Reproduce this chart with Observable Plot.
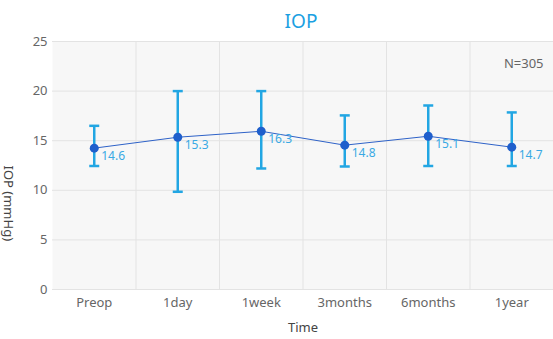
<!DOCTYPE html>
<html>
<head>
<meta charset="utf-8">
<script src="https://cdn.jsdelivr.net/npm/d3@7"></script>
<script src="https://cdn.jsdelivr.net/npm/@observablehq/plot@0.6"></script>
<style>
  html, body { margin: 0; padding: 0; background: #fff; }
  #chart svg { display: block; }
</style>
</head>
<body>
<div id="chart"></div>
<script>
const categories = ["Preop", "1day", "1week", "3months", "6months", "1year"];
const means = [14.25, 15.35, 15.95, 14.55, 15.45, 14.35];
const upper = [16.5, 20.0, 20.0, 17.55, 18.55, 17.85];
const lower = [12.45, 9.85, 12.2, 12.4, 12.45, 12.45];
const labels = ["14.6", "15.3", "16.3", "14.8", "15.1", "14.7"];
const yTicks = [0, 5, 10, 15, 20, 25];
const title = "IOP";
const yLabel = "IOP (mmHg)";
const xLabel = "Time";
const note = "N=305";

const rows = categories.map((c, i) => ({i, c, mean: means[i], hi: upper[i], lo: lower[i], label: labels[i]}));
const bounds = categories.slice(1).map((c, i) => i + 0.5);
const capRows = rows.flatMap(r => [{i: r.i, y: r.hi}, {i: r.i, y: r.lo}]);

const hline = {
  draw(context, size) {
    const w = Math.sqrt(size / Math.PI);
    context.moveTo(-w, 0);
    context.lineTo(w, 0);
  }
};

const font = "'Noto Sans', sans-serif";

const chart = Plot.plot({
  width: 553,
  height: 339,
  marginLeft: 52,
  marginRight: 0,
  marginTop: 41,
  marginBottom: 50,
  style: {fontFamily: font, fontSize: "13px", color: "#666", background: "#fff"},
  x: {type: "linear", domain: [-0.5, 5.5], axis: null},
  y: {domain: [0, 25], axis: null},
  marks: [
    Plot.frame({fill: "#f7f7f7", stroke: null}),
    Plot.gridY(yTicks, {stroke: "#e3e3e3", strokeOpacity: 1}),
    Plot.ruleX(bounds, {stroke: "#e3e3e3"}),
    Plot.axisY(yTicks, {tickSize: 0, tickPadding: 5, label: null, fontSize: 13, fill: "#666"}),
    Plot.axisX(categories.map((c, i) => i), {tickSize: 0, tickPadding: 8, label: null, tickFormat: i => categories[i], fontSize: 13, fill: "#666"}),
    Plot.ruleX(rows, {x: "i", y1: "lo", y2: "hi", stroke: "#22a6e3", strokeWidth: 2.5}),
    Plot.dot(capRows, {x: "i", y: "y", symbol: hline, r: 5, stroke: "#22a6e3", strokeWidth: 2.5}),
    Plot.line(rows, {x: "i", y: "mean", stroke: "#2e62c8", strokeWidth: 1}),
    Plot.dot(rows, {x: "i", y: "mean", r: 4.5, fill: "#1f5fcc", stroke: null}),
    Plot.text(rows, {x: "i", y: "mean", text: "label", dx: 7, dy: 8, textAnchor: "start", fill: "#39a9e4", fontSize: 12}),
    Plot.text([title], {frameAnchor: "top", dy: -27, dx: -2, fill: "#1ba0e2", fontSize: 19}),
    Plot.text([note], {frameAnchor: "top-right", dx: -10, dy: 17, textAnchor: "end", fill: "#666", fontSize: 13}),
    Plot.text([yLabel], {frameAnchor: "left", dx: -44, rotate: 90, fill: "#444", fontSize: 13}),
    Plot.text([xLabel], {frameAnchor: "bottom", dy: 42, fill: "#444", fontSize: 13})
  ]
});
document.getElementById("chart").append(chart);
</script>
</body>
</html>
